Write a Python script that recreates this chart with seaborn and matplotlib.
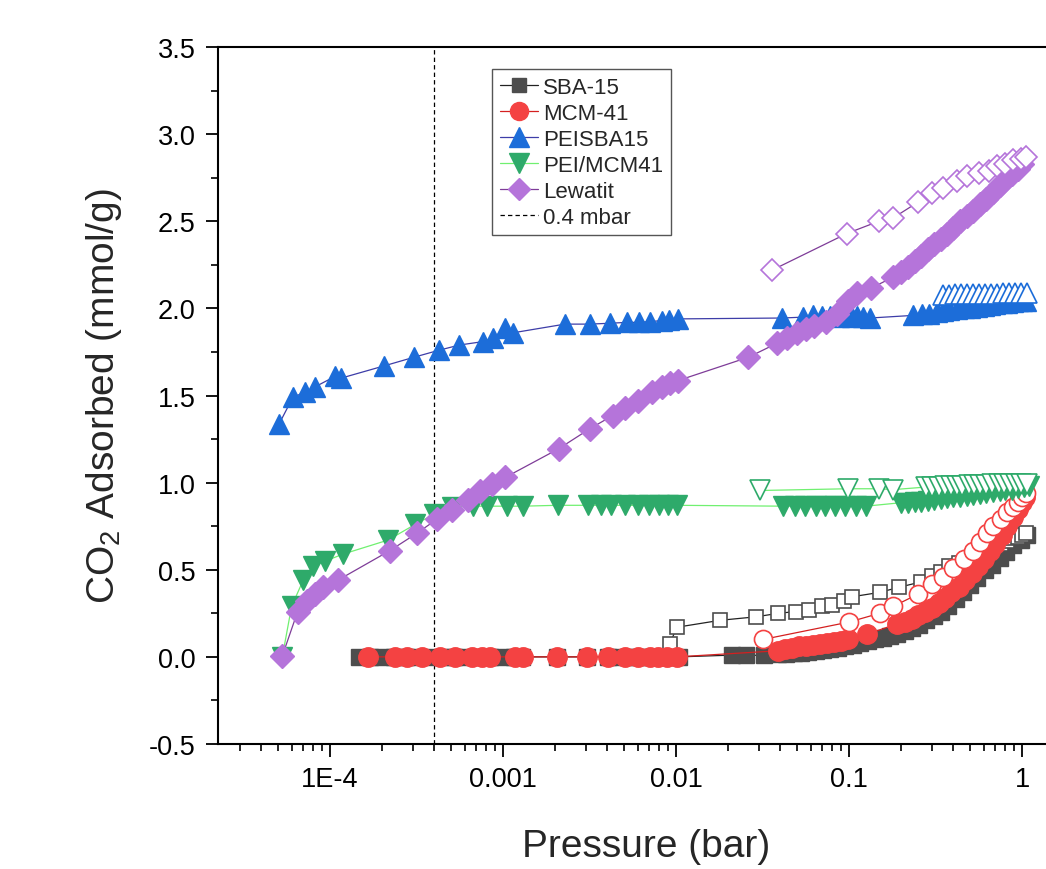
import numpy as np
import pandas as pd
import matplotlib
matplotlib.use("Agg")
import matplotlib.pyplot as plt
import seaborn as sns
from matplotlib.lines import Line2D
from matplotlib.ticker import FixedLocator, LogLocator, MultipleLocator, FuncFormatter, NullFormatter

# ---------------- data ----------------
# SBA-15
sba_ads_x = [1.47e-4, 1.70e-4, 2.0e-4, 2.34e-4, 2.75e-4, 3.23e-4, 3.78e-4, 4.44e-4, 5.21e-4, 6.11e-4,
             7.17e-4, 8.41e-4, 9.87e-4, 1.16e-3, 1.29e-3, 2.05e-3, 3.06e-3, 4.04e-3, 4.62e-3, 5.28e-3,
             6.03e-3, 6.89e-3, 7.87e-3, 9.0e-3, 1.04e-2, 0.0211, 0.0254, 0.0323,
             0.039, 0.043, 0.048, 0.053, 0.058, 0.064, 0.071, 0.078, 0.086, 0.095, 0.105, 0.116, 0.128,
             0.141, 0.156, 0.172, 0.19, 0.21, 0.23, 0.255, 0.28, 0.31, 0.34, 0.375, 0.415, 0.455, 0.5,
             0.55, 0.61, 0.67, 0.74, 0.81, 0.89, 0.98, 1.06]
sba_ads_y = [0.0] * 25 + [0.01, 0.01, 0.008,
             0.015, 0.018, 0.021, 0.025, 0.029, 0.033, 0.038, 0.045, 0.053, 0.062, 0.07, 0.078, 0.09,
             0.10, 0.11, 0.12, 0.13, 0.15, 0.165, 0.185, 0.21, 0.235, 0.26, 0.29, 0.33, 0.37, 0.41,
             0.45, 0.50, 0.53, 0.565, 0.60, 0.64, 0.67, 0.70]
sba_des_x = [0.0092, 0.0101, 0.018, 0.029, 0.039, 0.049, 0.059, 0.070, 0.080, 0.094, 0.104, 0.15,
             0.195, 0.26, 0.30, 0.34, 0.38, 0.43, 0.48, 0.54, 0.60, 0.67, 0.75, 0.82, 0.89, 0.95, 1.0, 1.05]
sba_des_y = [0.075, 0.17, 0.21, 0.23, 0.25, 0.26, 0.27, 0.29, 0.30, 0.32, 0.345, 0.37, 0.40, 0.43,
             0.465, 0.49, 0.52, 0.54, 0.56, 0.59, 0.61, 0.63, 0.65, 0.665, 0.68, 0.69, 0.70, 0.71]

# MCM-41
mcm_ads_x = [1.66e-4, 2.38e-4, 2.79e-4, 3.40e-4, 4.32e-4, 5.28e-4, 6.6e-4, 7.55e-4, 8.4e-4, 1.17e-3,
             1.30e-3, 2.05e-3, 3.06e-3, 4.04e-3, 5.1e-3, 6.0e-3, 7.1e-3, 7.9e-3, 8.9e-3, 1.01e-2,
             0.039, 0.0427, 0.0469, 0.0514, 0.0565, 0.062, 0.068, 0.0746, 0.082, 0.090, 0.099, 0.127,
             0.19, 0.21, 0.23, 0.25, 0.275, 0.30, 0.33, 0.36, 0.39, 0.43, 0.47, 0.51, 0.555, 0.60, 0.65,
             0.70, 0.76, 0.82, 0.88, 0.94, 1.0, 1.04]
mcm_ads_y = [0.0] * 20 + [0.035, 0.045, 0.05, 0.06, 0.065, 0.07, 0.075, 0.08, 0.085, 0.09, 0.10, 0.13,
             0.19, 0.20, 0.22, 0.24, 0.26, 0.28, 0.31, 0.34, 0.37, 0.40, 0.44, 0.48, 0.52, 0.56, 0.61,
             0.65, 0.70, 0.75, 0.80, 0.85, 0.89, 0.92]
mcm_des_x = [0.0318, 0.10, 0.15, 0.18, 0.25, 0.30, 0.35, 0.40, 0.46, 0.52, 0.57, 0.63, 0.68, 0.75,
             0.82, 0.88, 0.95, 1.0, 1.05]
mcm_des_y = [0.10, 0.20, 0.25, 0.29, 0.36, 0.42, 0.46, 0.51, 0.56, 0.61, 0.66, 0.71, 0.75, 0.79,
             0.83, 0.86, 0.89, 0.92, 0.94]

# PEISBA15
peisba_ads_x = [5.07e-5, 6.1e-5, 7.2e-5, 8.2e-5, 1.07e-4, 1.16e-4, 2.05e-4, 3.06e-4, 4.26e-4, 5.6e-4,
                7.7e-4, 8.8e-4, 1.03e-3, 1.14e-3, 2.28e-3, 3.18e-3, 4.15e-3, 5.2e-3, 6.1e-3, 7.1e-3,
                8.3e-3, 9.1e-3, 1.03e-2, 0.041, 0.054, 0.062, 0.070, 0.078, 0.087, 0.095, 0.104, 0.111,
                0.121, 0.132, 0.234, 0.265, 0.29, 0.32, 0.35, 0.38, 0.42, 0.46, 0.50, 0.55, 0.60, 0.65,
                0.70, 0.76, 0.82, 0.88, 0.94, 1.0, 1.05]
peisba_ads_y = [1.335, 1.49, 1.52, 1.55, 1.61, 1.60, 1.67, 1.72, 1.76, 1.79, 1.81, 1.83, 1.885, 1.86,
                1.91, 1.91, 1.915, 1.92, 1.92, 1.925, 1.93, 1.935, 1.94, 1.945, 1.95, 1.96, 1.955,
                1.955, 1.95, 1.955, 1.95, 1.955, 1.95, 1.945, 1.96, 1.97, 1.97, 1.98, 1.985, 1.99,
                1.995, 2.0, 2.005, 2.01, 2.015, 2.02, 2.025, 2.03, 2.03, 2.035, 2.04, 2.04, 2.045]
peisba_des_x = [0.35, 0.38, 0.41, 0.445, 0.48, 0.52, 0.565, 0.61, 0.66, 0.72, 0.78, 0.84, 0.91, 0.99, 1.07]
peisba_des_y = [2.075, 2.075, 2.08, 2.08, 2.08, 2.08, 2.085, 2.085, 2.085, 2.085, 2.09, 2.09, 2.09,
                2.09, 2.09]

# PEI/MCM41
peimcm_ads_x = [5.3e-5, 6.0e-5, 7.0e-5, 8.0e-5, 9.4e-5, 1.19e-4, 2.16e-4, 3.1e-4, 4.0e-4, 5.1e-4,
                6.7e-4, 8.1e-4, 1.06e-3, 1.3e-3, 2.07e-3, 3.1e-3, 3.7e-3, 4.2e-3, 5.1e-3, 6.0e-3,
                7.0e-3, 8.0e-3, 9.0e-3, 1.01e-2, 0.0415, 0.0487, 0.0558, 0.064, 0.0727, 0.083, 0.095,
                0.109, 0.125, 0.20, 0.22, 0.24, 0.26, 0.285, 0.31, 0.34, 0.37, 0.40, 0.44, 0.48, 0.52,
                0.57, 0.62, 0.68, 0.74, 0.80, 0.87, 0.94, 1.02, 1.1]
peimcm_ads_y = [0.0, 0.29, 0.44, 0.52, 0.55, 0.59, 0.67, 0.76, 0.82, 0.86, 0.865, 0.865, 0.865, 0.865,
                0.87, 0.87, 0.87, 0.87, 0.87, 0.87, 0.87, 0.87, 0.87, 0.87, 0.865, 0.865, 0.865, 0.865,
                0.865, 0.865, 0.865, 0.865, 0.865, 0.885, 0.885, 0.89, 0.89, 0.895, 0.90, 0.905, 0.91,
                0.915, 0.92, 0.925, 0.93, 0.935, 0.94, 0.945, 0.95, 0.955, 0.96, 0.97, 0.975, 0.98]
peimcm_des_x = [0.0306, 0.099, 0.148, 0.18, 0.28, 0.30, 0.33, 0.36, 0.39, 0.42, 0.45, 0.49, 0.53, 0.57,
                0.62, 0.67, 0.73, 0.79, 0.85, 0.92, 0.99, 1.07]
peimcm_des_y = [0.955, 0.965, 0.965, 0.96, 0.975, 0.975, 0.975, 0.98, 0.98, 0.98, 0.98, 0.985, 0.985,
                0.985, 0.985, 0.99, 0.99, 0.99, 0.99, 0.99, 0.995, 0.995]

# Lewatit
lew_ads_x = [5.3e-5, 6.5e-5, 7.4e-5, 8.2e-5, 9.1e-5, 1.11e-4, 2.22e-4, 3.18e-4, 4.15e-4, 5.1e-4,
             6.3e-4, 7.4e-4, 8.6e-4, 1.03e-3, 2.1e-3, 3.18e-3, 4.3e-3, 5.1e-3, 6.0e-3, 7.3e-3, 8.3e-3,
             9.2e-3, 1.02e-2, 0.0262, 0.0383, 0.0437, 0.050, 0.056, 0.063, 0.074, 0.085, 0.098, 0.111,
             0.133, 0.18, 0.20, 0.22, 0.24, 0.26, 0.285, 0.31, 0.34, 0.37, 0.40, 0.44, 0.48, 0.52,
             0.57, 0.62, 0.68, 0.74, 0.80, 0.87, 0.94, 1.0]
lew_ads_y = [0.005, 0.26, 0.32, 0.36, 0.40, 0.44, 0.61, 0.71, 0.79, 0.845, 0.90, 0.95, 0.99, 1.03,
             1.195, 1.31, 1.385, 1.43, 1.47, 1.52, 1.55, 1.57, 1.585, 1.72, 1.80, 1.83, 1.86, 1.88,
             1.90, 1.925, 1.97, 2.04, 2.09, 2.115, 2.18, 2.21, 2.24, 2.27, 2.30, 2.34, 2.37, 2.40,
             2.43, 2.46, 2.50, 2.53, 2.56, 2.60, 2.63, 2.67, 2.71, 2.74, 2.77, 2.80, 2.83]
lew_des_x = [0.0359, 0.097, 0.148, 0.18, 0.25, 0.30, 0.35, 0.42, 0.48, 0.56, 0.64, 0.72, 0.80, 0.89,
             0.98, 1.05]
lew_des_y = [2.22, 2.43, 2.50, 2.52, 2.61, 2.66, 2.69, 2.73, 2.76, 2.78, 2.79, 2.82, 2.83, 2.85,
             2.86, 2.87]

series_names = ["SBA-15", "MCM-41", "PEISBA15", "PEI/MCM41", "Lewatit"]
vline_x = 4e-4
vline_label = "0.4 mbar"

x_tick_values = [1e-4, 1e-3, 1e-2, 1e-1, 1]
x_tick_labels = ["1E-4", "0.001", "0.01", "0.1", "1"]

# ---------------- style ----------------
sns.set_theme(style="ticks")
plt.rcParams["font.family"] = ["Liberation Sans", "DejaVu Sans"]
plt.rcParams["mathtext.fontset"] = "custom"
plt.rcParams["mathtext.rm"] = "Liberation Sans"
plt.rcParams["mathtext.it"] = "Liberation Sans:italic"
plt.rcParams["mathtext.default"] = "rm"
plt.rcParams["axes.unicode_minus"] = False

styles = {
    "SBA-15":    dict(marker="s", ms=11.5, face="#4d4d4d", line="#222222"),
    "MCM-41":    dict(marker="o", ms=14,   face="#f44242", line="#d42020"),
    "PEISBA15":  dict(marker="^", ms=15,   face="#1c6dd9", line="#3d3da8"),
    "PEI/MCM41": dict(marker="v", ms=15,   face="#2eaa6a", line="#70f070"),
    "Lewatit":   dict(marker="D", ms=12,   face="#b574da", line="#7e3c98"),
}
data = {
    "SBA-15": (sba_ads_x, sba_ads_y, sba_des_x, sba_des_y),
    "MCM-41": (mcm_ads_x, mcm_ads_y, mcm_des_x, mcm_des_y),
    "PEISBA15": (peisba_ads_x, peisba_ads_y, peisba_des_x, peisba_des_y),
    "PEI/MCM41": (peimcm_ads_x, peimcm_ads_y, peimcm_des_x, peimcm_des_y),
    "Lewatit": (lew_ads_x, lew_ads_y, lew_des_x, lew_des_y),
}

fig = plt.figure(figsize=(10.46, 8.70), dpi=100)
ax = fig.add_axes([0.208, 0.1437, 0.819, 0.801])
ax.set_xscale("log")

for name in series_names:
    st = styles[name]
    ax_x, ax_y, de_x, de_y = data[name]
    sns.lineplot(x=ax_x, y=ax_y, ax=ax, sort=False, estimator=None, color=st["line"], linewidth=0.9,
                 marker=st["marker"], markersize=st["ms"], markerfacecolor=st["face"],
                 markeredgecolor=st["face"], markeredgewidth=1.0, zorder=3)
    sns.lineplot(x=de_x, y=de_y, ax=ax, sort=False, estimator=None, color=st["line"], linewidth=0.9,
                 marker=st["marker"], markersize=st["ms"] - 1, markerfacecolor="white",
                 markeredgecolor=st["face"], markeredgewidth=1.2, zorder=3)

ax.axvline(vline_x, color="black", linestyle=(0, (3.5, 2.5)), linewidth=0.9, zorder=2)

ax.set_xlim(2.24e-5, 2.0)
ax.set_ylim(-0.5, 3.5)

ax.xaxis.set_major_locator(FixedLocator(x_tick_values))
ax.xaxis.set_major_formatter(FuncFormatter(lambda v, p: x_tick_labels[x_tick_values.index(v)] if v in x_tick_values else ""))
ax.xaxis.set_minor_locator(LogLocator(base=10, subs=np.arange(2, 10)))
ax.xaxis.set_minor_formatter(NullFormatter())
ax.yaxis.set_major_locator(MultipleLocator(0.5))
ax.yaxis.set_minor_locator(MultipleLocator(0.25))
ax.yaxis.set_major_formatter(FuncFormatter(lambda v, p: f"{v:.1f}"))

ax.tick_params(which="major", direction="out", length=9, width=1.3, labelsize=19.5, pad=7, colors="black")
ax.tick_params(which="minor", direction="out", length=5, width=1.2, colors="black")
for sp in ax.spines.values():
    sp.set_linewidth(1.5)
    sp.set_color("black")

ax.set_xlabel("Pressure (bar)", fontsize=28, labelpad=26)
ax.set_ylabel(r"CO$_2$ Adsorbed (mmol/g)", fontsize=28, labelpad=18)

handles = []
for name in series_names:
    st = styles[name]
    handles.append(Line2D([], [], color=st["line"], linewidth=0.9, marker=st["marker"], markersize=st["ms"] - 1,
                          markerfacecolor=st["face"], markeredgecolor=st["face"]))
handles.append(Line2D([], [], color="black", linestyle=(0, (3.5, 2.5)), linewidth=0.9))
leg = ax.legend(handles, series_names + [vline_label], loc="upper left", bbox_to_anchor=(0.3205, 0.968),
                borderaxespad=0, fontsize=16, frameon=True, fancybox=False, edgecolor="#555555",
                framealpha=1, labelspacing=0.22, handlelength=1.7, handletextpad=0.25, borderpad=0.35)
leg.get_frame().set_linewidth(1.0)

fig.savefig("out.png", dpi=100)
